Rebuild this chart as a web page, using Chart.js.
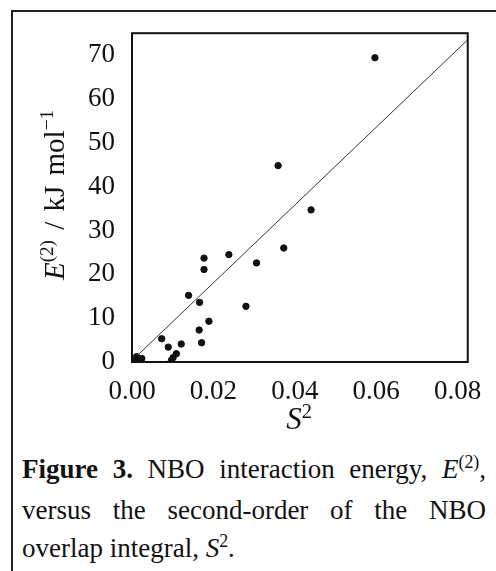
<!DOCTYPE html>
<html>
<head>
<meta charset="utf-8">
<script src="https://cdn.jsdelivr.net/npm/chart.js@4.4.1/dist/chart.umd.min.js"></script>
<style>
  body { margin: 0; background: #fff; }
  #page { position: relative; width: 496px; height: 571px; overflow: hidden; font-family: 'Liberation Serif', 'Times New Roman', serif; color: #111; }
  #frame { position: absolute; left: 11px; top: 10px; right: -4px; bottom: -4px; border-left: 2px solid #222; border-top: 2px solid #222; }
  canvas { position: absolute; left: 0; top: 0; }
  .t { position: absolute; white-space: nowrap; }
  sup { font-size: 0.66em; vertical-align: 0; position: relative; top: -0.55em; }
  #ytitle { left: -64px; top: 178px; width: 240px; font-size: 29px; line-height: 30px; word-spacing: 3px; text-align: center; transform: rotate(-90deg); }
  #xtitle { left: 249px; top: 404px; width: 100px; font-size: 31px; line-height: 30px; text-align: center; }
  #caption { position: absolute; left: 22px; top: 450px; width: 464px; font-size: 27px; line-height: 38px; }
  #caption .j { text-align: justify; text-align-last: justify; }
</style>
</head>
<body>
<div id="page">
  <div id="frame"></div>
  <canvas id="myChart" width="496" height="440"></canvas>
  <div class="t" id="ytitle"><i>E</i><sup>(2)</sup> / kJ mol<sup>−1</sup></div>
  <div class="t" id="xtitle"><i>S</i><sup>2</sup></div>
  <div id="caption">
    <div class="j"><b>Figure 3.</b> NBO interaction energy, <i>E</i><sup>(2)</sup>,</div>
    <div class="j">versus the second-order of the NBO</div>
    <div>overlap integral, <i>S</i><sup>2</sup>.</div>
  </div>
</div>
<script>
// values
const s2 = [0.0007, 0.0011, 0.0018, 0.0024, 0.0097, 0.0101, 0.0109, 0.0073, 0.0089, 0.0121, 0.0139, 0.0165,
  0.0166, 0.0171, 0.0177, 0.0177, 0.0189, 0.0238, 0.0280, 0.0306, 0.0359, 0.0373, 0.0440, 0.0597]
const e2 = [0.3, 1.2, 0.5, 0.8, 0.4, 1.0, 1.9, 5.3, 3.4, 4.1, 15.2, 7.3,
  13.6, 4.4, 23.7, 21.1, 9.3, 24.5, 12.7, 22.6, 44.8, 26.0, 34.7, 69.4]
// fitted line ends
const fitS2 = [0.001, 0.0825]
const fitE2 = [1.2, 73.5]
const xTickLabels = ['0.00', '0.02', '0.04', '0.06', '0.08']
const yTickLabels = ['0', '10', '20', '30', '40', '50', '60', '70']

const ctx = document.getElementById('myChart')
const tickFont = { family: "'Liberation Serif', 'Times New Roman', serif", size: 27 }

const boxPlugin = {
  id: 'plotBox',
  beforeDatasetsDraw(chart) {
    const a = chart.chartArea
    const c = chart.ctx
    c.save()
    c.strokeStyle = '#111'
    c.lineWidth = 2
    c.strokeRect(a.left, a.top, a.right - a.left, a.bottom - a.top)
    c.restore()
  }
}

const myChart = new Chart(ctx, {
  type: 'scatter',
  data: {
    datasets: [
      {
        label: 'E(2)',
        data: s2.map((x, i) => ({ x: x, y: e2[i] })),
        backgroundColor: '#111',
        borderColor: '#111',
        pointRadius: 3.2,
        pointHoverRadius: 3.2
      },
      {
        label: 'fit',
        type: 'line',
        data: fitS2.map((x, i) => ({ x: x, y: fitE2[i] })),
        borderColor: '#333',
        borderWidth: 1,
        pointRadius: 0,
        fill: false
      }
    ]
  },
  options: {
    responsive: false,
    animation: false,
    layout: { padding: { top: 24, right: 27, left: 0, bottom: 0 } },
    plugins: { legend: { display: false }, tooltip: { enabled: false } },
    scales: {
      x: {
        type: 'linear',
        min: 0,
        max: 0.0825,
        grid: { display: false, drawTicks: false },
        border: { display: false },
        afterBuildTicks: s => { s.ticks = xTickLabels.map(t => ({ value: parseFloat(t) })) },
        afterFit: s => { s.height = 78 },
        ticks: { padding: 14, color: '#111', font: tickFont, callback: v => v.toFixed(2) }
      },
      y: {
        min: 0,
        max: 75,
        grid: { display: false, drawTicks: false },
        border: { display: false },
        afterBuildTicks: s => { s.ticks = yTickLabels.map(t => ({ value: parseFloat(t) })) },
        afterFit: s => { s.width = 132 },
        ticks: { padding: 17, color: '#111', font: tickFont, callback: v => String(v) }
      }
    }
  },
  plugins: [boxPlugin]
})
</script>
</body>
</html>
